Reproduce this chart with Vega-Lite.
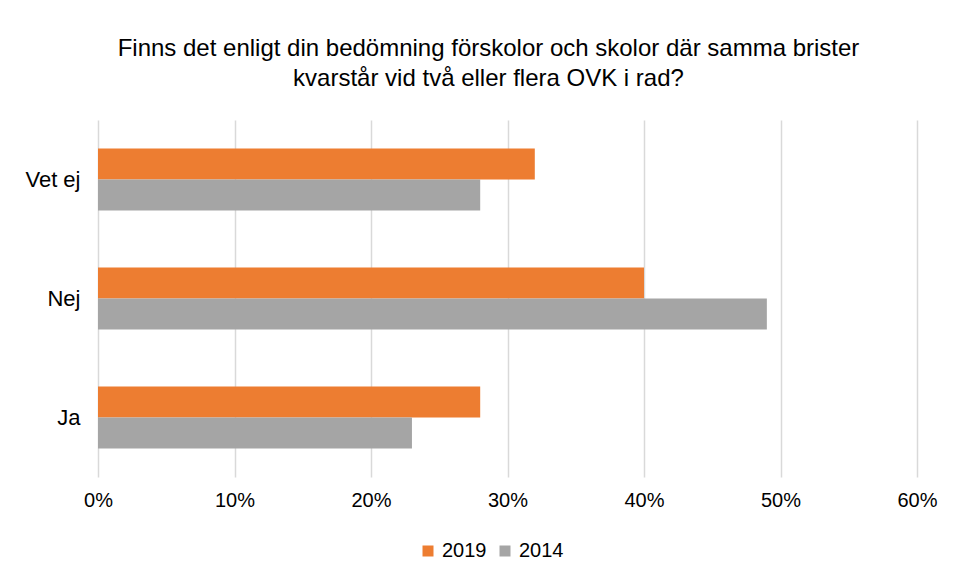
{
  "$schema": "https://vega.github.io/schema/vega-lite/v6.json",
  "autosize": "none",
  "width": 819,
  "height": 357,
  "padding": {"left": 98, "top": 120, "right": 38, "bottom": 102},
  "background": "white",
  "title": {
    "text": ["Finns det enligt din bedömning förskolor och skolor där samma brister", "kvarstår vid två eller flera OVK i rad?"],
    "font": "Liberation Sans",
    "fontSize": 24,
    "fontWeight": "normal",
    "color": "#000000",
    "anchor": "middle",
    "dx": -19,
    "offset": 29,
    "lineHeight": 30
  },
  "data": {
    "values": [
      {"svar": "Vet ej", "year": "2019", "value": 0.32},
      {"svar": "Vet ej", "year": "2014", "value": 0.28},
      {"svar": "Nej", "year": "2019", "value": 0.40},
      {"svar": "Nej", "year": "2014", "value": 0.49},
      {"svar": "Ja", "year": "2019", "value": 0.28},
      {"svar": "Ja", "year": "2014", "value": 0.23}
    ]
  },
  "mark": {"type": "bar"},
  "encoding": {
    "y": {
      "field": "svar",
      "type": "nominal",
      "sort": ["Vet ej", "Nej", "Ja"],
      "scale": {"paddingInner": 0.48, "paddingOuter": 0.24},
      "axis": {"title": null, "domain": false, "ticks": false, "labelFont": "Liberation Sans", "labelFontSize": 22, "labelColor": "#000000", "labelPadding": 18}
    },
    "yOffset": {"field": "year", "type": "nominal", "sort": ["2019", "2014"]},
    "x": {
      "field": "value",
      "type": "quantitative",
      "scale": {"domain": [0, 0.6], "nice": false},
      "axis": {"title": null, "format": ".0%", "values": [0, 0.1, 0.2, 0.3, 0.4, 0.5, 0.6], "labelOverlap": false, "labelFlush": false, "domain": false, "ticks": false, "grid": true, "gridColor": "#D9D9D9", "gridWidth": 1.5, "labelFont": "Liberation Sans", "labelFontSize": 20, "labelColor": "#000000", "labelPadding": 13}
    },
    "color": {
      "field": "year",
      "type": "nominal",
      "sort": ["2019", "2014"],
      "scale": {"domain": ["2019", "2014"], "range": ["#ED7D31", "#A5A5A5"]},
      "legend": {"title": null, "orient": "none", "legendX": 320, "legendY": 421, "direction": "horizontal", "symbolType": "square", "symbolSize": 121, "symbolStrokeWidth": 0, "labelFont": "Liberation Sans", "labelFontSize": 20, "labelColor": "#000000", "columnPadding": 8, "labelOffset": 4}
    }
  },
  "config": {"view": {"stroke": null}}
}
